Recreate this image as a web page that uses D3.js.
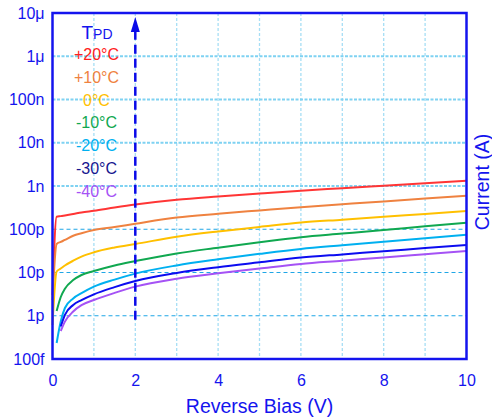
<!DOCTYPE html>
<html>
<head>
<meta charset="utf-8">
<script src="https://cdn.jsdelivr.net/npm/d3@7"></script>
<style>
  body { margin: 0; background: #fff; }
  svg { display: block; font-family: "Liberation Sans", Arial, sans-serif; }
</style>
</head>
<body>
<div id="chart-area"></div>
<script>
const MARGIN = { LEFT: 52.5, RIGHT: 25.5, TOP: 13, BOTTOM: 61 }
const W = 492, H = 420
const WIDTH = W - MARGIN.LEFT - MARGIN.RIGHT
const HEIGHT = H - MARGIN.TOP - MARGIN.BOTTOM

// data (current in A)
const voltage = [0, 0.1, 0.2, 0.3, 0.5, 0.7, 1, 1.5, 2, 3, 4, 5, 6, 7, 8, 9, 10]
const tempLabels = ["+20°C", "+10°C", "0°C", "-10°C", "-20°C", "-30°C", "-40°C"]
const curP20 = [3.02e-12, 1.95e-10, 2.01e-10, 2.09e-10, 2.25e-10, 2.44e-10, 2.67e-10, 3.17e-10, 3.72e-10, 4.8e-10, 5.72e-10, 6.7e-10, 7.79e-10, 8.89e-10, 1.016e-9, 1.161e-9, 1.326e-9]
const curP10 = [2.31e-12, 4.56e-11, 5.10e-11, 5.67e-11, 7.06e-11, 8.10e-11, 9.61e-11, 1.127e-10, 1.344e-10, 1.869e-10, 2.28e-10, 2.72e-10, 3.235e-10, 3.775e-10, 4.405e-10, 5.14e-10, 5.97e-10]
const cur0 = [6.11e-13, 1.055e-11, 1.237e-11, 1.451e-11, 1.874e-11, 2.331e-11, 2.932e-11, 3.784e-11, 4.56e-11, 6.725e-11, 8.9e-11, 1.13e-10, 1.425e-10, 1.663e-10, 1.941e-10, 2.264e-10, 2.642e-10]
const curM10 = [null, 1.288e-12, 2.714e-12, 4.221e-12, 6.673e-12, 8.756e-12, 1.083e-11, 1.459e-11, 1.835e-11, 2.764e-11, 3.75e-11, 5.0e-11, 6.549e-11, 7.93e-11, 9.61e-11, 1.17e-10, 1.417e-10]
const curM20 = [null, 2.344e-13, 7.44e-13, 1.511e-12, 2.519e-12, 3.322e-12, 4.695e-12, 6.852e-12, 9.43e-12, 1.459e-11, 2.02e-11, 2.7e-11, 3.513e-11, 4.255e-11, 5.126e-11, 6.21e-11, 7.48e-11]
const curM30 = [null, null, 5.64e-13, 1.052e-12, 1.773e-12, 2.3e-12, 3.133e-12, 4.595e-12, 6.361e-12, 9.79e-12, 1.33e-11, 1.72e-11, 2.211e-11, 2.621e-11, 3.092e-11, 3.666e-11, 4.323e-11]
const curM40 = [null, null, 4.44e-13, 7.32e-13, 1.254e-12, 1.754e-12, 2.31e-12, 3.376e-12, 4.72e-12, 7.19e-12, 9.58e-12, 1.237e-11, 1.58e-11, 1.874e-11, 2.234e-11, 2.649e-11, 3.141e-11]

const xTicks = [0, 2, 4, 6, 8, 10]
const yTickValues = [1e-5, 1e-6, 1e-7, 1e-8, 1e-9, 1e-10, 1e-11, 1e-12, 1e-13]
const yTickLabels = ["10μ", "1μ", "100n", "10n", "1n", "100p", "10p", "1p", "100f"]

const lineColors = ["#ff3535", "#ef8240", "#ffc000", "#10a850", "#00b0f0", "#0c0cf0", "#a552f5"]
const legendColors = ["#ff2020", "#ef8240", "#ffc000", "#10a850", "#00b0f0", "#16168f", "#a552f5"]
const BLUE = "#1414ee"

const allSeries = [curP20, curP10, cur0, curM10, curM20, curM30, curM40]

const svg = d3.select("#chart-area").append("svg")
  .attr("width", W)
  .attr("height", H)

const g = svg.append("g")
  .attr("transform", `translate(${MARGIN.LEFT}, ${MARGIN.TOP})`)

const x = d3.scaleLinear().domain([0, 10]).range([0, WIDTH])
const y = d3.scaleLog().domain([1e-13, 1e-5]).range([HEIGHT, 0])

// grid
g.selectAll(".vgrid")
  .data(d3.range(1, 10))
  .enter().append("line")
  .attr("x1", d => x(d)).attr("x2", d => x(d))
  .attr("y1", 0).attr("y2", HEIGHT)
  .attr("stroke", "#a6def5")
  .attr("stroke-width", 1.3)
  .attr("stroke-dasharray", "3,2")

g.selectAll(".hgrid")
  .data(yTickValues.slice(1, -1))
  .enter().append("line")
  .attr("x1", 0).attr("x2", WIDTH)
  .attr("y1", d => y(d)).attr("y2", d => y(d))
  .attr("stroke", d => d >= 1e-9 ? "#7fd2f2" : "#1fa6e6")
  .attr("stroke-width", d => d >= 1e-9 ? 2 : 1)
  .attr("stroke-dasharray", d => d >= 1e-9 ? "3,1.5" : "4,3")

// curves
const line = d3.line()
  .defined(d => d[1] != null)
  .x(d => x(d[0]))
  .y(d => y(d[1]))
  .curve(d3.curveMonotoneX)

allSeries.forEach((s, i) => {
  g.append("path")
    .datum(voltage.map((v, j) => [v, s[j]]))
    .attr("fill", "none")
    .attr("stroke", lineColors[i])
    .attr("stroke-width", 2)
    .attr("d", line)
})

// dashed arrow at 2 V
g.append("line")
  .attr("x1", x(2)).attr("x2", x(2))
  .attr("y1", y(1e-12) + 4).attr("y2", y(1e-5) + 18)
  .attr("stroke", "#0a0ae8")
  .attr("stroke-width", 2.5)
  .attr("stroke-dasharray", "9,5")
g.append("path")
  .attr("d", `M${x(2) - 4.5},${y(1e-5) + 19} L${x(2) + 4.5},${y(1e-5) + 19} L${x(2)},${y(1e-5) + 4} Z`)
  .attr("fill", "#0a0ae8")

// frame
g.append("rect")
  .attr("width", WIDTH).attr("height", HEIGHT)
  .attr("fill", "none")
  .attr("stroke", BLUE)
  .attr("stroke-width", 2.5)

// axes
const yAxis = g.append("g")
  .call(d3.axisLeft(y).tickValues(yTickValues)
    .tickFormat((d, i) => yTickLabels[i]).tickSize(0).tickPadding(8))
yAxis.select(".domain").remove()
yAxis.selectAll("text")
  .attr("fill", BLUE)
  .attr("font-size", "16px")
  .attr("font-family", "'Liberation Sans', Arial, sans-serif")

const xAxis = g.append("g")
  .attr("transform", `translate(0, ${HEIGHT})`)
  .call(d3.axisBottom(x).tickValues(xTicks).tickSize(0).tickPadding(16))
xAxis.select(".domain").remove()
xAxis.selectAll("text")
  .attr("fill", BLUE)
  .attr("font-size", "16px")
  .attr("font-family", "'Liberation Sans', Arial, sans-serif")

// labels
g.append("text")
  .attr("x", WIDTH / 2)
  .attr("y", HEIGHT + 54)
  .attr("text-anchor", "middle")
  .attr("font-size", "19.5px")
  .attr("fill", BLUE)
  .text("Reverse Bias (V)")

g.append("text")
  .attr("transform", `translate(${WIDTH + 22}, ${HEIGHT / 2 - 4}) rotate(-90)`)
  .attr("text-anchor", "middle")
  .attr("font-size", "19.5px")
  .attr("fill", BLUE)
  .text("Current (A)")

// legend
const tpd = g.append("text")
  .attr("x", 29)
  .attr("y", 25.5)
  .attr("fill", BLUE)
tpd.append("tspan").attr("font-size", "19px").text("T")
tpd.append("tspan").attr("font-size", "14px").text("PD")

g.selectAll(".legend")
  .data(tempLabels)
  .enter().append("text")
  .attr("x", 44)
  .attr("y", (d, i) => 47 + i * 22.8)
  .attr("text-anchor", "middle")
  .attr("font-size", "16px")
  .attr("fill", (d, i) => legendColors[i])
  .text(d => d)
</script>
</body>
</html>
